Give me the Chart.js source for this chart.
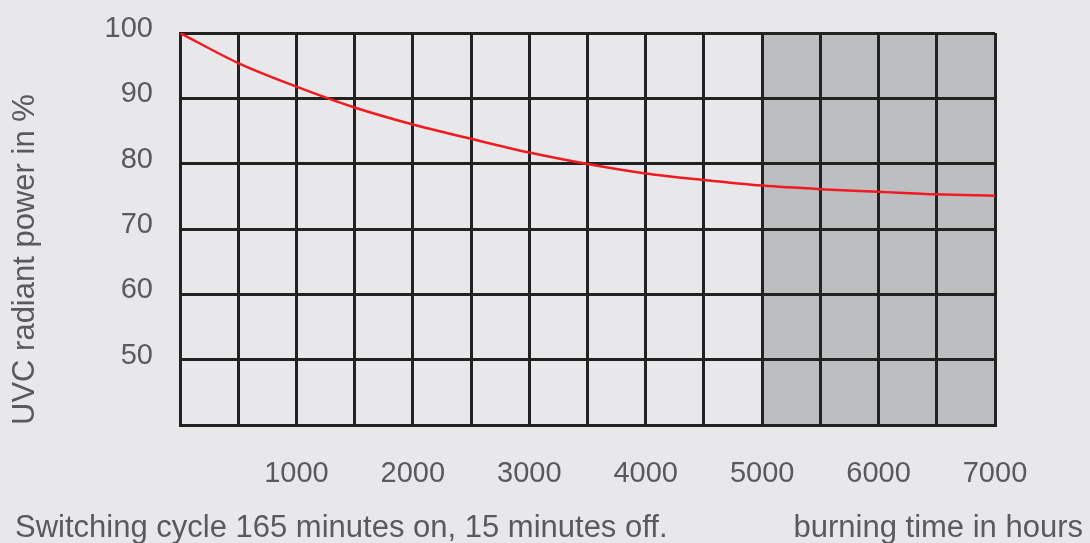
<!DOCTYPE html>
<html>
<head>
<meta charset="utf-8">
<title>UVC radiant power</title>
<script src="https://cdn.jsdelivr.net/npm/chart.js@4/dist/chart.umd.min.js"></script>
<style>
  html, body { margin: 0; padding: 0; background: #e8e8ea; }
  #wrap { width: 1090px; height: 543px; position: relative; }
</style>
</head>
<body>
<div id="wrap"><canvas id="uvcChart" width="1090" height="543"></canvas></div>
<script>
// ── DATA ────────────────────────────────────────────────
const HOURS     = [0, 500, 1000, 1500, 2000, 2500, 3000, 3500, 4000, 4500, 5000, 5500, 6000, 6500, 7000];
const UVC_POWER = [100, 95.4, 91.8, 88.6, 86.0, 83.8, 81.7, 79.95, 78.5, 77.5, 76.65, 76.1, 75.7, 75.3, 75.1];
const X_LABELS  = [1000, 2000, 3000, 4000, 5000, 6000, 7000];
const Y_LABELS  = [50, 60, 70, 80, 90, 100];
const SHADE     = [5000, 7000];

const Y_TITLE    = 'UVC radiant power in %';
const NOTE_LEFT  = 'Switching cycle 165 minutes on, 15 minutes off.';
const NOTE_RIGHT = 'burning time in hours';

const FONT = "'Liberation Sans', Arial, sans-serif";
const TEXT = '#5a5a5c';
const GRID = '#222222';

// shaded band under the grid
const shadePlugin = {
  id: 'shade',
  beforeDraw(chart) {
    const { ctx, chartArea: a, scales: { x } } = chart;
    const x0 = x.getPixelForValue(SHADE[0]);
    const x1 = x.getPixelForValue(SHADE[1]);
    ctx.save();
    ctx.fillStyle = '#bdbec0';
    ctx.fillRect(x0, a.top, x1 - x0, a.bottom - a.top);
    ctx.restore();
  }
};

// the two captions under the axis
const notesPlugin = {
  id: 'notes',
  afterDraw(chart) {
    const ctx = chart.ctx;
    ctx.save();
    ctx.font = '31px ' + FONT;
    ctx.fillStyle = TEXT;
    ctx.textBaseline = 'alphabetic';
    ctx.textAlign = 'left';
    ctx.fillText(NOTE_LEFT, 15, 537);
    ctx.textAlign = 'right';
    ctx.fillText(NOTE_RIGHT, 1083, 537);
    ctx.restore();
  }
};

// fixed box sizes, no extra padding from the edge labels
function fixBox(s, w, h) {
  if (w) s.width = w;
  if (h) s.height = h;
  s.paddingTop = s.paddingBottom = s.paddingLeft = s.paddingRight = 0;
}

new Chart(document.getElementById('uvcChart').getContext('2d'), {
  type: 'line',
  data: {
    datasets: [{
      data: HOURS.map((h, i) => ({ x: h, y: UVC_POWER[i] })),
      borderColor: '#f01a21',
      borderWidth: 2.5,
      pointRadius: 0,
      cubicInterpolationMode: 'monotone',
      fill: false,
    }]
  },
  options: {
    responsive: false,
    animation: false,
    devicePixelRatio: 1,
    layout: { padding: { top: 33, right: 95, left: 0, bottom: 0 } },
    plugins: {
      legend: { display: false },
      tooltip: { enabled: false }
    },
    scales: {
      x: {
        type: 'linear',
        min: 0,
        max: 7000,
        afterFit: s => fixBox(s, 0, 118),
        ticks: {
          stepSize: 500,
          padding: 32,
          maxRotation: 0,
          autoSkip: false,
          color: TEXT,
          font: { family: FONT, size: 29 },
          callback: v => X_LABELS.includes(v) ? String(v) : ''
        },
        grid: { color: GRID, lineWidth: 3, drawTicks: false },
        border: { color: GRID, width: 3 }
      },
      y: {
        min: 40,
        max: 100,
        afterFit: s => fixBox(s, 180, 0),
        ticks: {
          stepSize: 10,
          padding: 27,
          labelOffset: -4,
          color: TEXT,
          font: { family: FONT, size: 29 },
          callback: v => Y_LABELS.includes(v) ? String(v) : ''
        },
        grid: { color: GRID, lineWidth: 3, drawTicks: false },
        border: { color: GRID, width: 3 },
        title: {
          display: true,
          text: Y_TITLE,
          align: 'start',
          color: TEXT,
          font: { family: FONT, size: 31, lineHeight: 1.2 },
          padding: { top: 7, bottom: 0 }
        }
      }
    }
  },
  plugins: [shadePlugin, notesPlugin]
});
</script>
</body>
</html>
